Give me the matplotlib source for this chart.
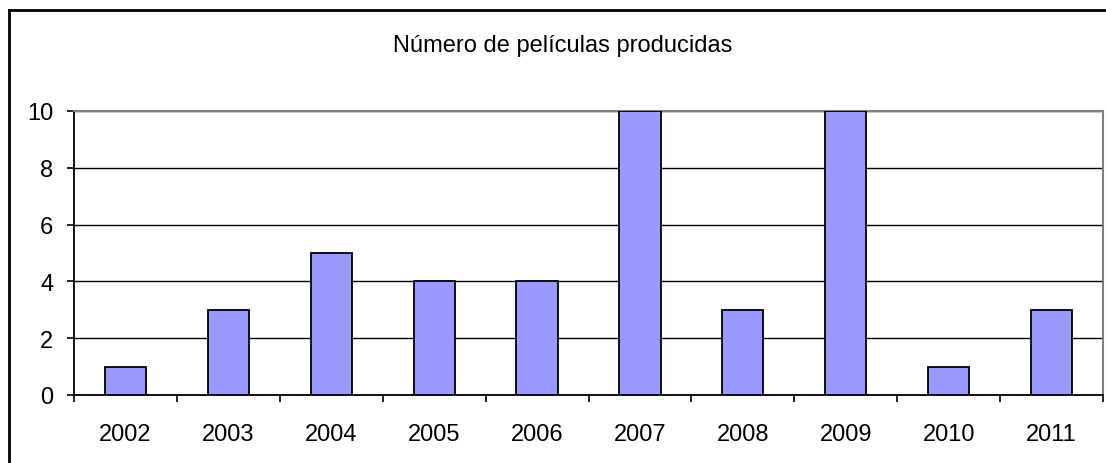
import matplotlib
matplotlib.use("Agg")
import matplotlib.pyplot as plt
from matplotlib.lines import Line2D

years = ["2002", "2003", "2004", "2005", "2006", "2007", "2008", "2009", "2010", "2011"]
films = [1, 3, 5, 4, 4, 10, 3, 10, 1, 3]
yticks = [0, 2, 4, 6, 8, 10]
title = "Número de películas producidas"

plt.rcParams['font.family'] = ['Liberation Sans', 'DejaVu Sans']

W, H = 1106, 464
fig = plt.figure(figsize=(W / 100, H / 100), dpi=100)

# axes position in pixels
L, R, T, B = 74, 1103, 112, 396
ax = fig.add_axes([L / W, (H - B) / H, (R - L) / W, (B - T) / H])

x = list(range(len(years)))
ax.bar(x, films, width=0.4, color="#9999FF", edgecolor="black", linewidth=1.3, zorder=3)

ax.set_xlim(-0.5, len(years) - 0.5)
ax.set_ylim(0, 10)
ax.set_yticks(yticks)
ax.set_yticklabels([str(v) for v in yticks], fontsize=17)
ax.set_xticks(x)
ax.set_xticklabels(years, fontsize=17)
ax.set_xticks([i - 0.5 for i in range(len(years) + 1)], minor=True)
ax.tick_params(axis="x", which="major", length=0, pad=20)
ax.tick_params(axis="x", which="minor", length=5, width=1.2, direction="out")
ax.tick_params(axis="y", which="major", length=5, width=1.2, direction="out", pad=10)

ax.yaxis.grid(True, color="black", linewidth=1.0, zorder=0)
ax.set_axisbelow(True)
for s in ["top", "right"]:
    ax.spines[s].set_color("#808080")
    ax.spines[s].set_linewidth(1.5)
for s in ["left", "bottom"]:
    ax.spines[s].set_color("black")
    ax.spines[s].set_linewidth(1.3)

fig.text(563 / W, 1 - 46 / H, title, ha="center", va="center", fontsize=17)

# outer chart border (left and top visible)
fig.add_artist(Line2D([9 / W, 9 / W], [1 - 11 / H, -0.05], transform=fig.transFigure,
                      color="black", linewidth=2.0))
fig.add_artist(Line2D([9 / W, 1.05], [1 - 11 / H, 1 - 11 / H], transform=fig.transFigure,
                      color="black", linewidth=2.0))

fig.savefig("out.png", dpi=100)
